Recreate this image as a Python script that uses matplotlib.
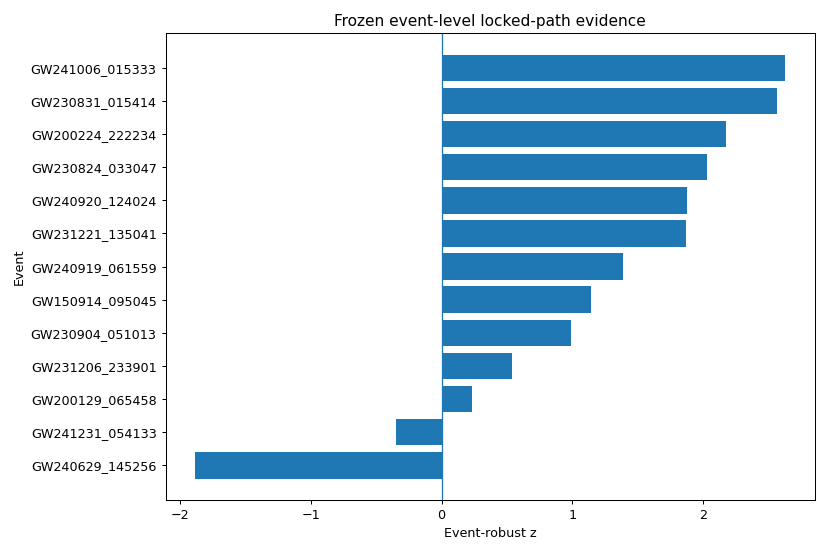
import numpy as np
import matplotlib.pyplot as plt

# events top-to-bottom as in the chart
events = ['GW241006_015333', 'GW230831_015414', 'GW200224_222234',
          'GW230824_033047', 'GW240920_124024', 'GW231221_135041',
          'GW240919_061559', 'GW150914_095045', 'GW230904_051013',
          'GW231206_233901', 'GW200129_065458', 'GW241231_054133',
          'GW240629_145256']
z_values = [2.63, 2.57, 2.18, 2.03, 1.88, 1.87, 1.39, 1.14, 0.99,
            0.54, 0.235, -0.35, -1.886]

# 9in wide figure at dpi 92 -> 828 px, things come out slightly smaller
fig, ax = plt.subplots(figsize=(9, 548 / 92), dpi=92)
# barh draws the first item at the bottom, so reverse
ax.barh(events[::-1], z_values[::-1])
ax.axvline(0, linewidth=1)
ax.set_xlabel('Event-robust z')
ax.set_ylabel('Event')
ax.set_title('Frozen event-level locked-path evidence')
fig.subplots_adjust(left=0.2, right=0.984, bottom=0.088, top=0.939)
fig.savefig('out.png')
